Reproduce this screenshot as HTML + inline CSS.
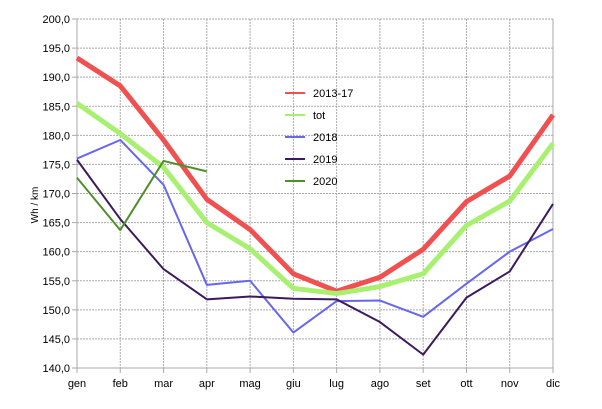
<!DOCTYPE html>
<html><head><style>body{margin:0;background:#fff}svg{display:block}</style></head>
<body>
<svg id="c" width="602" height="409" xmlns="http://www.w3.org/2000/svg" font-family="Liberation Sans, sans-serif" font-size="11"></svg>
<script>
const s=document.getElementById('c');
const L=77,R=553,T=19,B=368;
const X=i=>L+i*(R-L)/11, Y=v=>T+(200-v)*(B-T)/60;
let h='';
for(let i=0;i<=12;i++){const y=Y(200-5*i);h+=`<line x1="${L}" x2="${R}" y1="${y}" y2="${y}" stroke="#aaa" stroke-dasharray="2,1"/>`;h+=`<line x1="${L-5}" x2="${L}" y1="${y}" y2="${y}" stroke="#aaa"/>`;h+=`<text x="${L-7}" y="${y+4}" text-anchor="end">${(200-5*i).toFixed(1).replace('.',',')}</text>`;}
const m=['gen','feb','mar','apr','mag','giu','lug','ago','set','ott','nov','dic'];
m.forEach((t,i)=>{const x=X(i);h+=`<line x1="${x}" x2="${x}" y1="${T}" y2="${B}" stroke="#aaa" stroke-dasharray="2,1"/><line x1="${x}" x2="${x}" y1="${B}" y2="${B+5}" stroke="#aaa"/><text x="${x}" y="${B+19}" text-anchor="middle">${t}</text>`;});
h+=`<line x1="${L}" x2="${L}" y1="${T}" y2="${B}" stroke="#aaa"/><line x1="${R}" x2="${R}" y1="${T}" y2="${B}" stroke="#aaa"/><line x1="${L}" x2="${R}" y1="${B}" y2="${B}" stroke="#aaa"/>`;
h+=`<text transform="translate(38,205) rotate(-90)" text-anchor="middle" font-size="10">Wh / km</text>`;
const S=[
['2013-17','#f05050',5,[193.3,188.5,179.2,169,163.8,156.2,153.2,155.6,160.4,168.6,173,183.5]],
['tot','#a8f070',5,[185.5,180.3,174.5,165,160.5,153.7,152.8,154,156.2,164.5,168.7,178.6]],
['2018','#6666ee',2,[176,179.2,171.5,154.3,155,146.1,151.5,151.6,148.8,154.5,160,163.9]],
['2019','#3d1a5c',2,[175.8,165.6,157,151.8,152.3,151.9,151.8,147.9,142.3,152.1,156.6,168.2]],
['2020','#4f8f2a',2,[172.7,163.7,175.6,173.8]]];
S.forEach((d,k)=>{h+=`<polyline fill="none" stroke="${d[1]}" stroke-width="${d[2]}" stroke-linejoin="round" points="${d[3].map((v,i)=>X(i)+','+Y(v)).join(' ')}"/>`;
const ly=93+k*22;h+=`<line x1="285" x2="305" y1="${ly}" y2="${ly}" stroke="${d[1]}" stroke-width="2"/><text x="313" y="${ly+4}">${d[0]}</text>`;});
s.innerHTML=h;
</script>
</body></html>
